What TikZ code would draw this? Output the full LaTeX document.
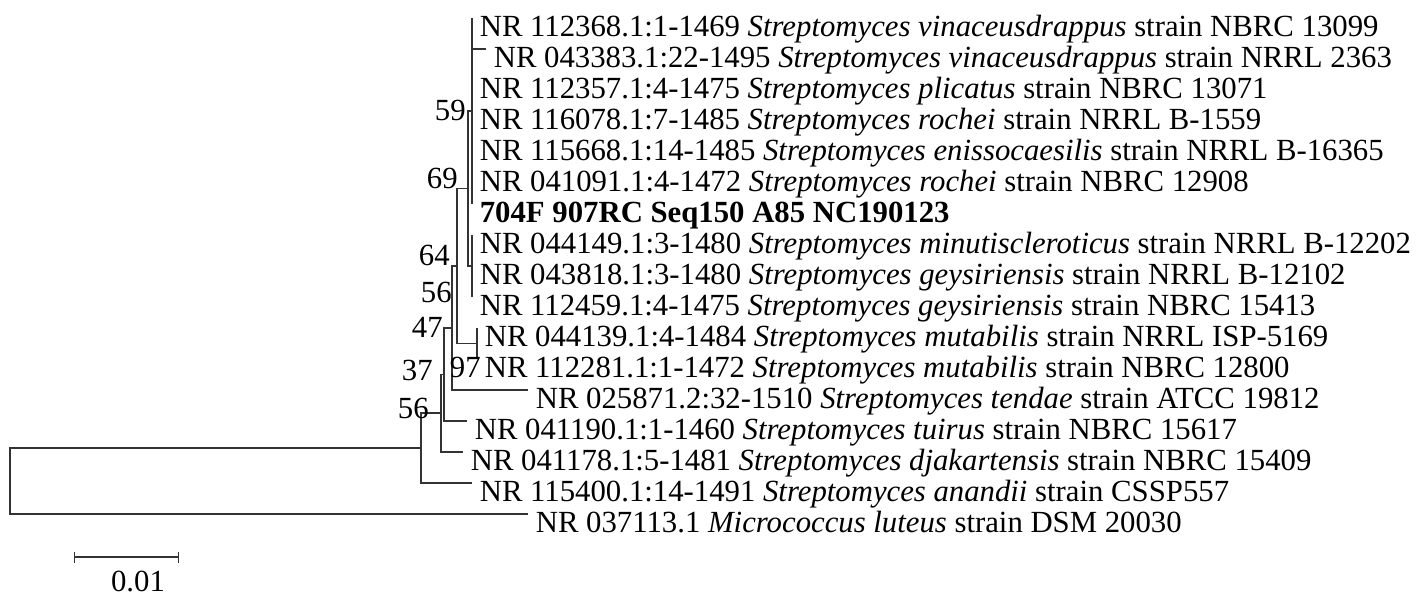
\documentclass[tikz,border=0pt]{standalone}
\usepackage{fontspec}
\setmainfont{Liberation Serif}
\usetikzlibrary{arrows.meta}

\begin{document}
\begin{tikzpicture}[x=0.02cm,y=-0.02cm,br/.style={draw=black!80,line width=0.8pt},t/.style={anchor=base west,inner sep=0pt,xshift=0.15cm,yshift=-0.36cm,font=\fontsize{17.5}{21}\selectfont},bs/.style={anchor=base east,inner sep=0pt,font=\fontsize{17.5}{21}\selectfont}]
\useasboundingbox (0,0) rectangle (1417,596);
\coordinate (r) at (10,481);
\coordinate (I) at (421,448);
\coordinate (H) at (441,413);
\coordinate (G) at (444,374.5);
\coordinate (F) at (452,328);
\coordinate (D) at (457,266);
\coordinate (B) at (468,188.5);
\coordinate (A) at (472,111);
\coordinate (C) at (472,266);
\coordinate (E) at (477,343.5);
\coordinate (l1) at (472,18);
\coordinate (l2) at (486,49);
\coordinate (l3) at (472,80);
\coordinate (l4) at (472,111);
\coordinate (l5) at (472,142);
\coordinate (l6) at (472,173);
\coordinate (l7) at (472,204);
\coordinate (l8) at (472,235);
\coordinate (l9) at (472,266);
\coordinate (l10) at (472,297);
\coordinate (l11) at (477,328);
\coordinate (l12) at (477,359);
\coordinate (l13) at (528,390);
\coordinate (l14) at (467,421);
\coordinate (l15) at (463,452);
\coordinate (l16) at (472,483);
\coordinate (l17) at (528,514);
\draw[br] (r) |- (I) (r) |- (l17);
\draw[br] (I) |- (H) (I) |- (l16);
\draw[br] (H) |- (G) (H) |- (l15);
\draw[br] (G) |- (F) (G) |- (l14);
\draw[br] (F) |- (D) (F) |- (l13);
\draw[br] (D) |- (B) (D) |- (E);
\draw[br] (B) |- (A) (B) |- (C);
\draw[br] (A) |- (l1) (A) |- (l2) (A) |- (l3) (A) |- (l4) (A) |- (l5) (A) |- (l6) (A) |- (l7);
\draw[br] (C) |- (l8) (C) |- (l9) (C) |- (l10);
\draw[br] (E) |- (l11) (E) |- (l12);
\node[t] (n1) at (l1) {NR 112368.1:1-1469 \textit{Streptomyces vinaceusdrappus} strain NBRC 13099};
\node[t] (n2) at (l2) {NR 043383.1:22-1495 \textit{Streptomyces vinaceusdrappus} strain NRRL 2363};
\node[t] (n3) at (l3) {NR 112357.1:4-1475 \textit{Streptomyces plicatus} strain NBRC 13071};
\node[t] (n4) at (l4) {NR 116078.1:7-1485 \textit{Streptomyces rochei} strain NRRL B-1559};
\node[t] (n5) at (l5) {NR 115668.1:14-1485 \textit{Streptomyces enissocaesilis} strain NRRL B-16365};
\node[t] (n6) at (l6) {NR 041091.1:4-1472 \textit{Streptomyces rochei} strain NBRC 12908};
\node[t] (n7) at (l7) {\textbf{704F 907RC Seq150 A85 NC190123}};
\node[t] (n8) at (l8) {NR 044149.1:3-1480 \textit{Streptomyces minutiscleroticus} strain NRRL B-12202};
\node[t] (n9) at (l9) {NR 043818.1:3-1480 \textit{Streptomyces geysiriensis} strain NRRL B-12102};
\node[t] (n10) at (l10) {NR 112459.1:4-1475 \textit{Streptomyces geysiriensis} strain NBRC 15413};
\node[t] (n11) at (l11) {NR 044139.1:4-1484 \textit{Streptomyces mutabilis} strain NRRL ISP-5169};
\node[t] (n12) at (l12) {NR 112281.1:1-1472 \textit{Streptomyces mutabilis} strain NBRC 12800};
\node[t] (n13) at (l13) {NR 025871.2:32-1510 \textit{Streptomyces tendae} strain ATCC 19812};
\node[t] (n14) at (l14) {NR 041190.1:1-1460 \textit{Streptomyces tuirus} strain NBRC 15617};
\node[t] (n15) at (l15) {NR 041178.1:5-1481 \textit{Streptomyces djakartensis} strain NBRC 15409};
\node[t] (n16) at (l16) {NR 115400.1:14-1491 \textit{Streptomyces anandii} strain CSSP557};
\node[t] (n17) at (l17) {NR 037113.1 \textit{Micrococcus luteus} strain DSM 20030};
\node[bs] (bA) at (466,120) {59};
\node[bs] (bB) at (458,188) {69};
\node[bs] (bD) at (450,265) {64};
\node[bs] (bC) at (452,302) {56};
\node[bs] (bF) at (443,337) {47};
\node[bs] (bE) at (481,377) {97};
\node[bs] (bG) at (433,380) {37};
\node[bs] (bH) at (429,418) {56};
\coordinate (s1) at (74,557);
\coordinate (s2) at (179,557);
\draw[br,{Bar[width=0.22cm]}-{Bar[width=0.22cm]}] (s1) -- (s2);
\node[anchor=base,inner sep=0pt,font=\fontsize{17.5}{21}\selectfont] (sl) at (138,591) {0.01};
\end{tikzpicture}
\end{document}
